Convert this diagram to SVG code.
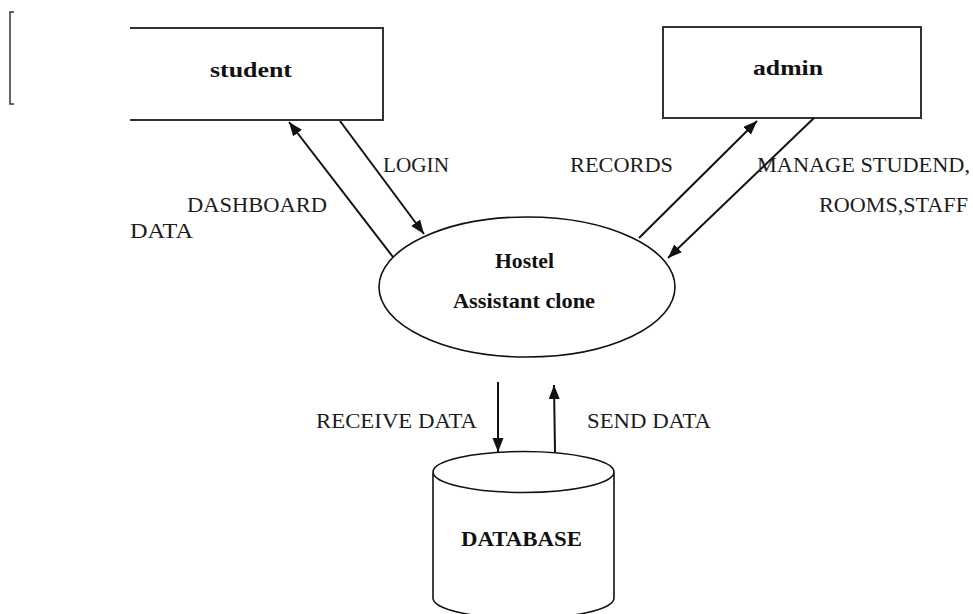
<svg xmlns="http://www.w3.org/2000/svg" width="973" height="614" viewBox="0 0 973 614">
  <style>
    .box { fill: none; stroke: #333; stroke-width: 2; }
    .shape { fill: none; stroke: #111; stroke-width: 1.6; }
    .conn { stroke: #111; stroke-width: 2; fill: none; }
    .lbl { font-family: "Liberation Serif", "Times New Roman", serif; font-size: 21px; fill: #1c1c1c; }
    .bold { font-family: "Liberation Serif", "Times New Roman", serif; font-size: 21px; font-weight: bold; fill: #111; }
  </style>
  <defs>
    <marker id="ah" markerUnits="userSpaceOnUse" markerWidth="15" markerHeight="12" refX="14" refY="5.5" orient="auto">
      <path d="M0,0 L14,5.5 L0,11 Z" fill="#111"/>
    </marker>
  </defs>
  <rect width="973" height="614" fill="#fff"/>

  <path d="M14,12 H10 V104 H14" fill="none" stroke="#333" stroke-width="1.5"/>

  <g id="student">
    <path class="box" d="M130,28 H383 V120 H130"/>
    <text class="bold" x="251" y="77" text-anchor="middle" textLength="82" lengthAdjust="spacingAndGlyphs">student</text>
  </g>

  <g id="admin">
    <rect class="box" x="663" y="27" width="258" height="91"/>
    <text class="bold" x="788" y="75" text-anchor="middle" textLength="70" lengthAdjust="spacingAndGlyphs">admin</text>
  </g>

  <g id="hostel">
    <ellipse class="shape" cx="527" cy="287" rx="148" ry="70"/>
    <text class="bold" x="524.5" y="268" text-anchor="middle" textLength="59" lengthAdjust="spacingAndGlyphs">Hostel</text>
    <text class="bold" x="524" y="308" text-anchor="middle" textLength="142" lengthAdjust="spacingAndGlyphs">Assistant clone</text>
  </g>

  <g id="database">
    <path class="shape" d="M433,472 A90.5,20.5 0 0 1 614,472 A90.5,20.5 0 0 1 433,472 Z M433,472 V598 A90.5,20.5 0 0 0 614,598 V472"/>
    <text class="bold" x="521.5" y="546" text-anchor="middle" textLength="121" lengthAdjust="spacingAndGlyphs">DATABASE</text>
  </g>

  <g id="connectors">
    <line class="conn" x1="393" y1="257" x2="289" y2="122" marker-end="url(#ah)"/>
    <line class="conn" x1="340" y1="121" x2="424" y2="234" marker-end="url(#ah)"/>
    <line class="conn" x1="639" y1="238" x2="757" y2="121" marker-end="url(#ah)"/>
    <line class="conn" x1="814" y1="118" x2="668" y2="258" marker-end="url(#ah)"/>
    <line class="conn" x1="498" y1="382" x2="498" y2="452" marker-end="url(#ah)"/>
    <line class="conn" x1="555" y1="452" x2="554" y2="385" marker-end="url(#ah)"/>
  </g>

  <g id="labels">
    <text class="lbl" x="383" y="172" textLength="66" lengthAdjust="spacingAndGlyphs">LOGIN</text>
    <text class="lbl" x="187" y="212" textLength="140" lengthAdjust="spacingAndGlyphs">DASHBOARD</text>
    <text class="lbl" x="130" y="238" textLength="63" lengthAdjust="spacingAndGlyphs">DATA</text>
    <text class="lbl" x="570" y="172" textLength="103" lengthAdjust="spacingAndGlyphs">RECORDS</text>
    <text class="lbl" x="757" y="172" textLength="213" lengthAdjust="spacingAndGlyphs">MANAGE STUDEND,</text>
    <text class="lbl" x="819" y="212" textLength="149" lengthAdjust="spacingAndGlyphs">ROOMS,STAFF</text>
    <text class="lbl" x="316" y="428" textLength="161" lengthAdjust="spacingAndGlyphs">RECEIVE DATA</text>
    <text class="lbl" x="587" y="428" textLength="124" lengthAdjust="spacingAndGlyphs">SEND DATA</text>
  </g>
</svg>
